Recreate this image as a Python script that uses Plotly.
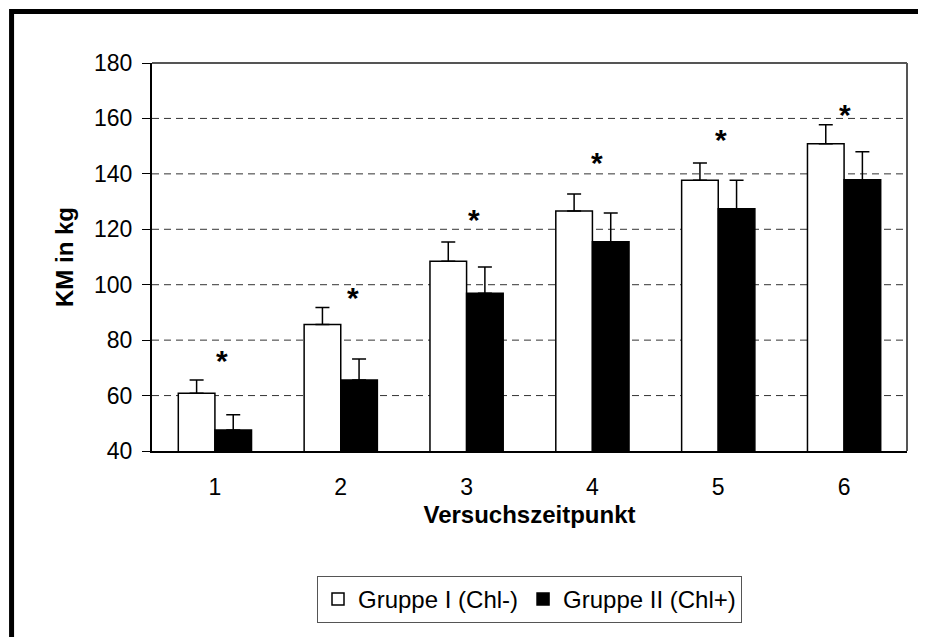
import plotly.graph_objects as go

# Versuchszeitpunkte
zeitpunkte = [1, 2, 3, 4, 5, 6]

# Gruppe I (Chl-) - Mittelwerte und Standardabweichung (nur nach oben)
gruppe1 = [60.8, 85.6, 108.5, 126.6, 137.7, 150.9]
gruppe1_sd = [4.8, 6.2, 6.9, 6.1, 6.2, 6.8]

# Gruppe II (Chl+)
gruppe2 = [47.6, 65.6, 96.9, 115.5, 127.4, 137.9]
gruppe2_sd = [5.5, 7.6, 9.5, 10.4, 10.3, 10.1]

# Signifikanz-Sterne
stern_x = [1.06, 2.1, 3.06, 4.04, 5.02, 6.01]
stern_y = [73.8, 96.6, 124.5, 145.2, 153.4, 162.4]

y_ticks = [40, 60, 80, 100, 120, 140, 160, 180]

FONT = "Liberation Sans, Arial, sans-serif"

fig = go.Figure()

fig.add_trace(
    go.Bar(
        x=zeitpunkte,
        y=gruppe1,
        name="Gruppe I (Chl-)",
        marker=dict(color="white", line=dict(color="black", width=1.5)),
        error_y=dict(
            type="data",
            symmetric=False,
            array=gruppe1_sd,
            arrayminus=[0] * len(gruppe1_sd),
            color="black",
            thickness=1.5,
            width=7,
        ),
    )
)

fig.add_trace(
    go.Bar(
        x=zeitpunkte,
        y=gruppe2,
        name="Gruppe II (Chl+)",
        marker=dict(color="black", line=dict(color="black", width=1.5)),
        error_y=dict(
            type="data",
            symmetric=False,
            array=gruppe2_sd,
            arrayminus=[0] * len(gruppe2_sd),
            color="black",
            thickness=1.5,
            width=7,
        ),
    )
)

# Sterne
for sx, sy in zip(stern_x, stern_y):
    fig.add_annotation(
        x=sx,
        y=sy,
        text="<b>*</b>",
        showarrow=False,
        font=dict(family=FONT, size=30, color="black"),
        yshift=-3,
    )

# gestrichelte Gitterlinien
for v in y_ticks[1:-1]:
    fig.add_shape(
        type="line",
        xref="paper",
        yref="y",
        x0=0,
        x1=1,
        y0=v,
        y1=v,
        line=dict(color="#333333", width=1, dash="7px,5px"),
        layer="below",
    )

# Rahmen des Plotbereichs (oben / rechts)
fig.add_shape(type="line", xref="paper", yref="paper", x0=0, x1=1, y0=1, y1=1,
              line=dict(color="#555555", width=2))
fig.add_shape(type="line", xref="paper", yref="paper", x0=1, x1=1, y0=0, y1=1,
              line=dict(color="#555555", width=2))

# aeusserer Rahmen (nur oben und links sichtbar)
fig.add_shape(type="line", xref="paper", yref="paper", x0=-0.186, x1=1.1,
              y0=1.1325, y1=1.1325, line=dict(color="black", width=5))
fig.add_shape(type="line", xref="paper", yref="paper", x0=-0.186, x1=-0.186,
              y0=1.139, y1=-0.55, line=dict(color="black", width=5))

fig.update_layout(
    width=926,
    height=637,
    margin=dict(l=144, r=27, t=55, b=194),
    paper_bgcolor="white",
    plot_bgcolor="white",
    barmode="group",
    bargap=0.418,
    bargroupgap=0,
    font=dict(family=FONT, size=23, color="black"),
    showlegend=True,
    legend=dict(
        orientation="h",
        x=0.5,
        xanchor="center",
        y=-0.322,
        yanchor="top",
        bordercolor="#555555",
        borderwidth=1,
        font=dict(size=24),
        itemwidth=30,
        traceorder="normal",
    ),
    xaxis=dict(
        range=[0.5, 6.5],
        tickvals=zeitpunkte,
        ticktext=[str(z) for z in zeitpunkte],
        showgrid=False,
        zeroline=False,
        showline=True,
        linecolor="black",
        linewidth=2,
        ticks="",
        ticklabelstandoff=14,
        title=dict(text="<b>Versuchszeitpunkt</b>", standoff=8,
                   font=dict(size=24)),
    ),
    yaxis=dict(
        range=[40, 180],
        tickvals=y_ticks,
        showgrid=False,
        zeroline=False,
        showline=True,
        linecolor="black",
        linewidth=2,
        ticks="outside",
        ticklen=8,
        tickwidth=1,
        tickcolor="black",
        ticklabelstandoff=5,
        title=dict(text="<b>KM in kg</b>", standoff=14, font=dict(size=24)),
    ),
)

fig.write_html("out.html")
